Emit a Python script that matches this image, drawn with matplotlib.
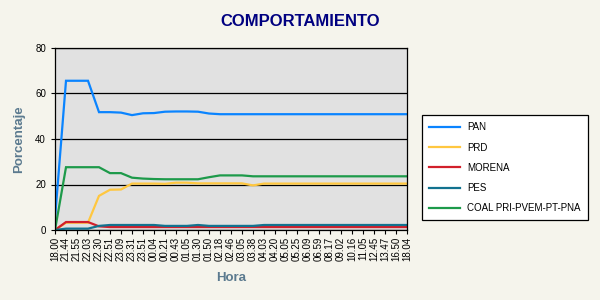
import numpy as np
import matplotlib
matplotlib.use("Agg")
import matplotlib.pyplot as plt

horas = ["18.00", "21.44", "21.55", "22.03", "22.30", "22.51", "23.09", "23.31",
         "23.51", "00.04", "00.21", "00.43", "01.05", "01.30", "01.50", "02.18",
         "02.46", "03.05", "03.38", "04.03", "04.20", "05.05", "05.25", "06.09",
         "06.59", "08.17", "09.02", "10.16", "11.05", "12.45", "13.47", "16.50",
         "18.04"]

pan = [5, 65.6, 65.6, 65.6, 51.8, 51.8, 51.6, 50.5, 51.3, 51.4, 52.0, 52.1, 52.1,
       52.0, 51.2, 50.9, 50.9, 50.9, 50.9, 50.9, 50.9, 50.9, 50.9, 50.9, 50.9,
       50.9, 50.9, 50.9, 50.9, 50.9, 50.9, 50.9, 50.9]
prd = [0, 3.2, 3.2, 3.2, 15.0, 17.7, 17.8, 20.4, 20.4, 20.4, 20.3, 20.8, 20.8,
       20.5, 20.5, 20.5, 20.5, 20.5, 19.6, 20.4, 20.4, 20.4, 20.4, 20.4, 20.4,
       20.4, 20.4, 20.4, 20.4, 20.4, 20.4, 20.4, 20.4]
morena = [0, 3.5, 3.5, 3.5, 1.6, 1.3, 1.3, 1.3, 1.3, 1.3, 1.3, 1.3, 1.3,
          1.3, 1.3, 1.3, 1.3, 1.3, 1.3, 1.3, 1.3, 1.3, 1.3, 1.3, 1.3,
          1.3, 1.3, 1.3, 1.3, 1.3, 1.3, 1.3, 1.3]
pes = [0, 0.6, 0.6, 0.6, 1.8, 2.2, 2.2, 2.2, 2.2, 2.2, 1.8, 1.8, 1.8,
       2.2, 1.8, 1.8, 1.8, 1.8, 1.8, 2.2, 2.2, 2.2, 2.2, 2.2, 2.2,
       2.2, 2.2, 2.2, 2.2, 2.2, 2.2, 2.2, 2.2]
coal = [0, 27.6, 27.6, 27.6, 27.6, 25.0, 25.0, 23.0, 22.6, 22.4, 22.3, 22.3, 22.3,
        22.3, 23.2, 24.0, 24.0, 24.0, 23.6, 23.6, 23.6, 23.6, 23.6, 23.6, 23.6,
        23.6, 23.6, 23.6, 23.6, 23.6, 23.6, 23.6, 23.6]

series = [("PAN", pan, "#0a84ff"),
          ("PRD", prd, "#ffc740"),
          ("MORENA", morena, "#d21f2b"),
          ("PES", pes, "#12728f"),
          ("COAL PRI-PVEM-PT-PNA", coal, "#1d9a4a")]

plt.rcParams["font.family"] = ["Liberation Sans", "DejaVu Sans"]

fig = plt.figure(figsize=(6, 3), dpi=100, facecolor="#f5f4ec")
ax = fig.add_axes([55 / 600, 70 / 300, 352 / 600, 182 / 300])
ax.set_facecolor("#e1e1e1")

x = np.arange(len(horas))
for name, vals, color in series:
    ax.plot(x, vals, color=color, lw=1.6, label=name, solid_joinstyle="miter")

ax.set_xlim(0, len(horas) - 1)
ax.set_ylim(0, 80)
ax.set_yticks([0, 20, 40, 60, 80])
ax.set_xticks(x)
ax.set_xticklabels(horas, rotation=90, fontsize=7)
ax.tick_params(axis="y", labelsize=7, length=3, width=0.8)
ax.tick_params(axis="x", length=3, width=0.8, pad=2)
ax.yaxis.grid(True, color="black", lw=0.9)
ax.set_axisbelow(True)
for s in ax.spines.values():
    s.set_color("black")
    s.set_linewidth(0.9)

ax.set_ylabel("Porcentaje", fontsize=9.5, fontweight="bold", color="#5b7a8f", labelpad=7)
ax.set_xlabel("Hora", fontsize=9.5, fontweight="bold", color="#5b7a8f", labelpad=8)
fig.text(0.5, 0.93, "COMPORTAMIENTO", ha="center", va="center",
         fontsize=12, fontweight="bold", color="#000080")

leg = fig.legend(loc="upper left", bbox_to_anchor=(422 / 600, 1 - 115 / 300),
                 fontsize=7, frameon=True, fancybox=False, handlelength=3.2,
                 labelspacing=1.05, borderpad=0.75, handletextpad=0.7,
                 borderaxespad=0)
leg.get_frame().set_edgecolor("black")
leg.get_frame().set_linewidth(0.9)
leg.get_frame().set_alpha(1)

fig.savefig("out.png", dpi=100, facecolor=fig.get_facecolor())
